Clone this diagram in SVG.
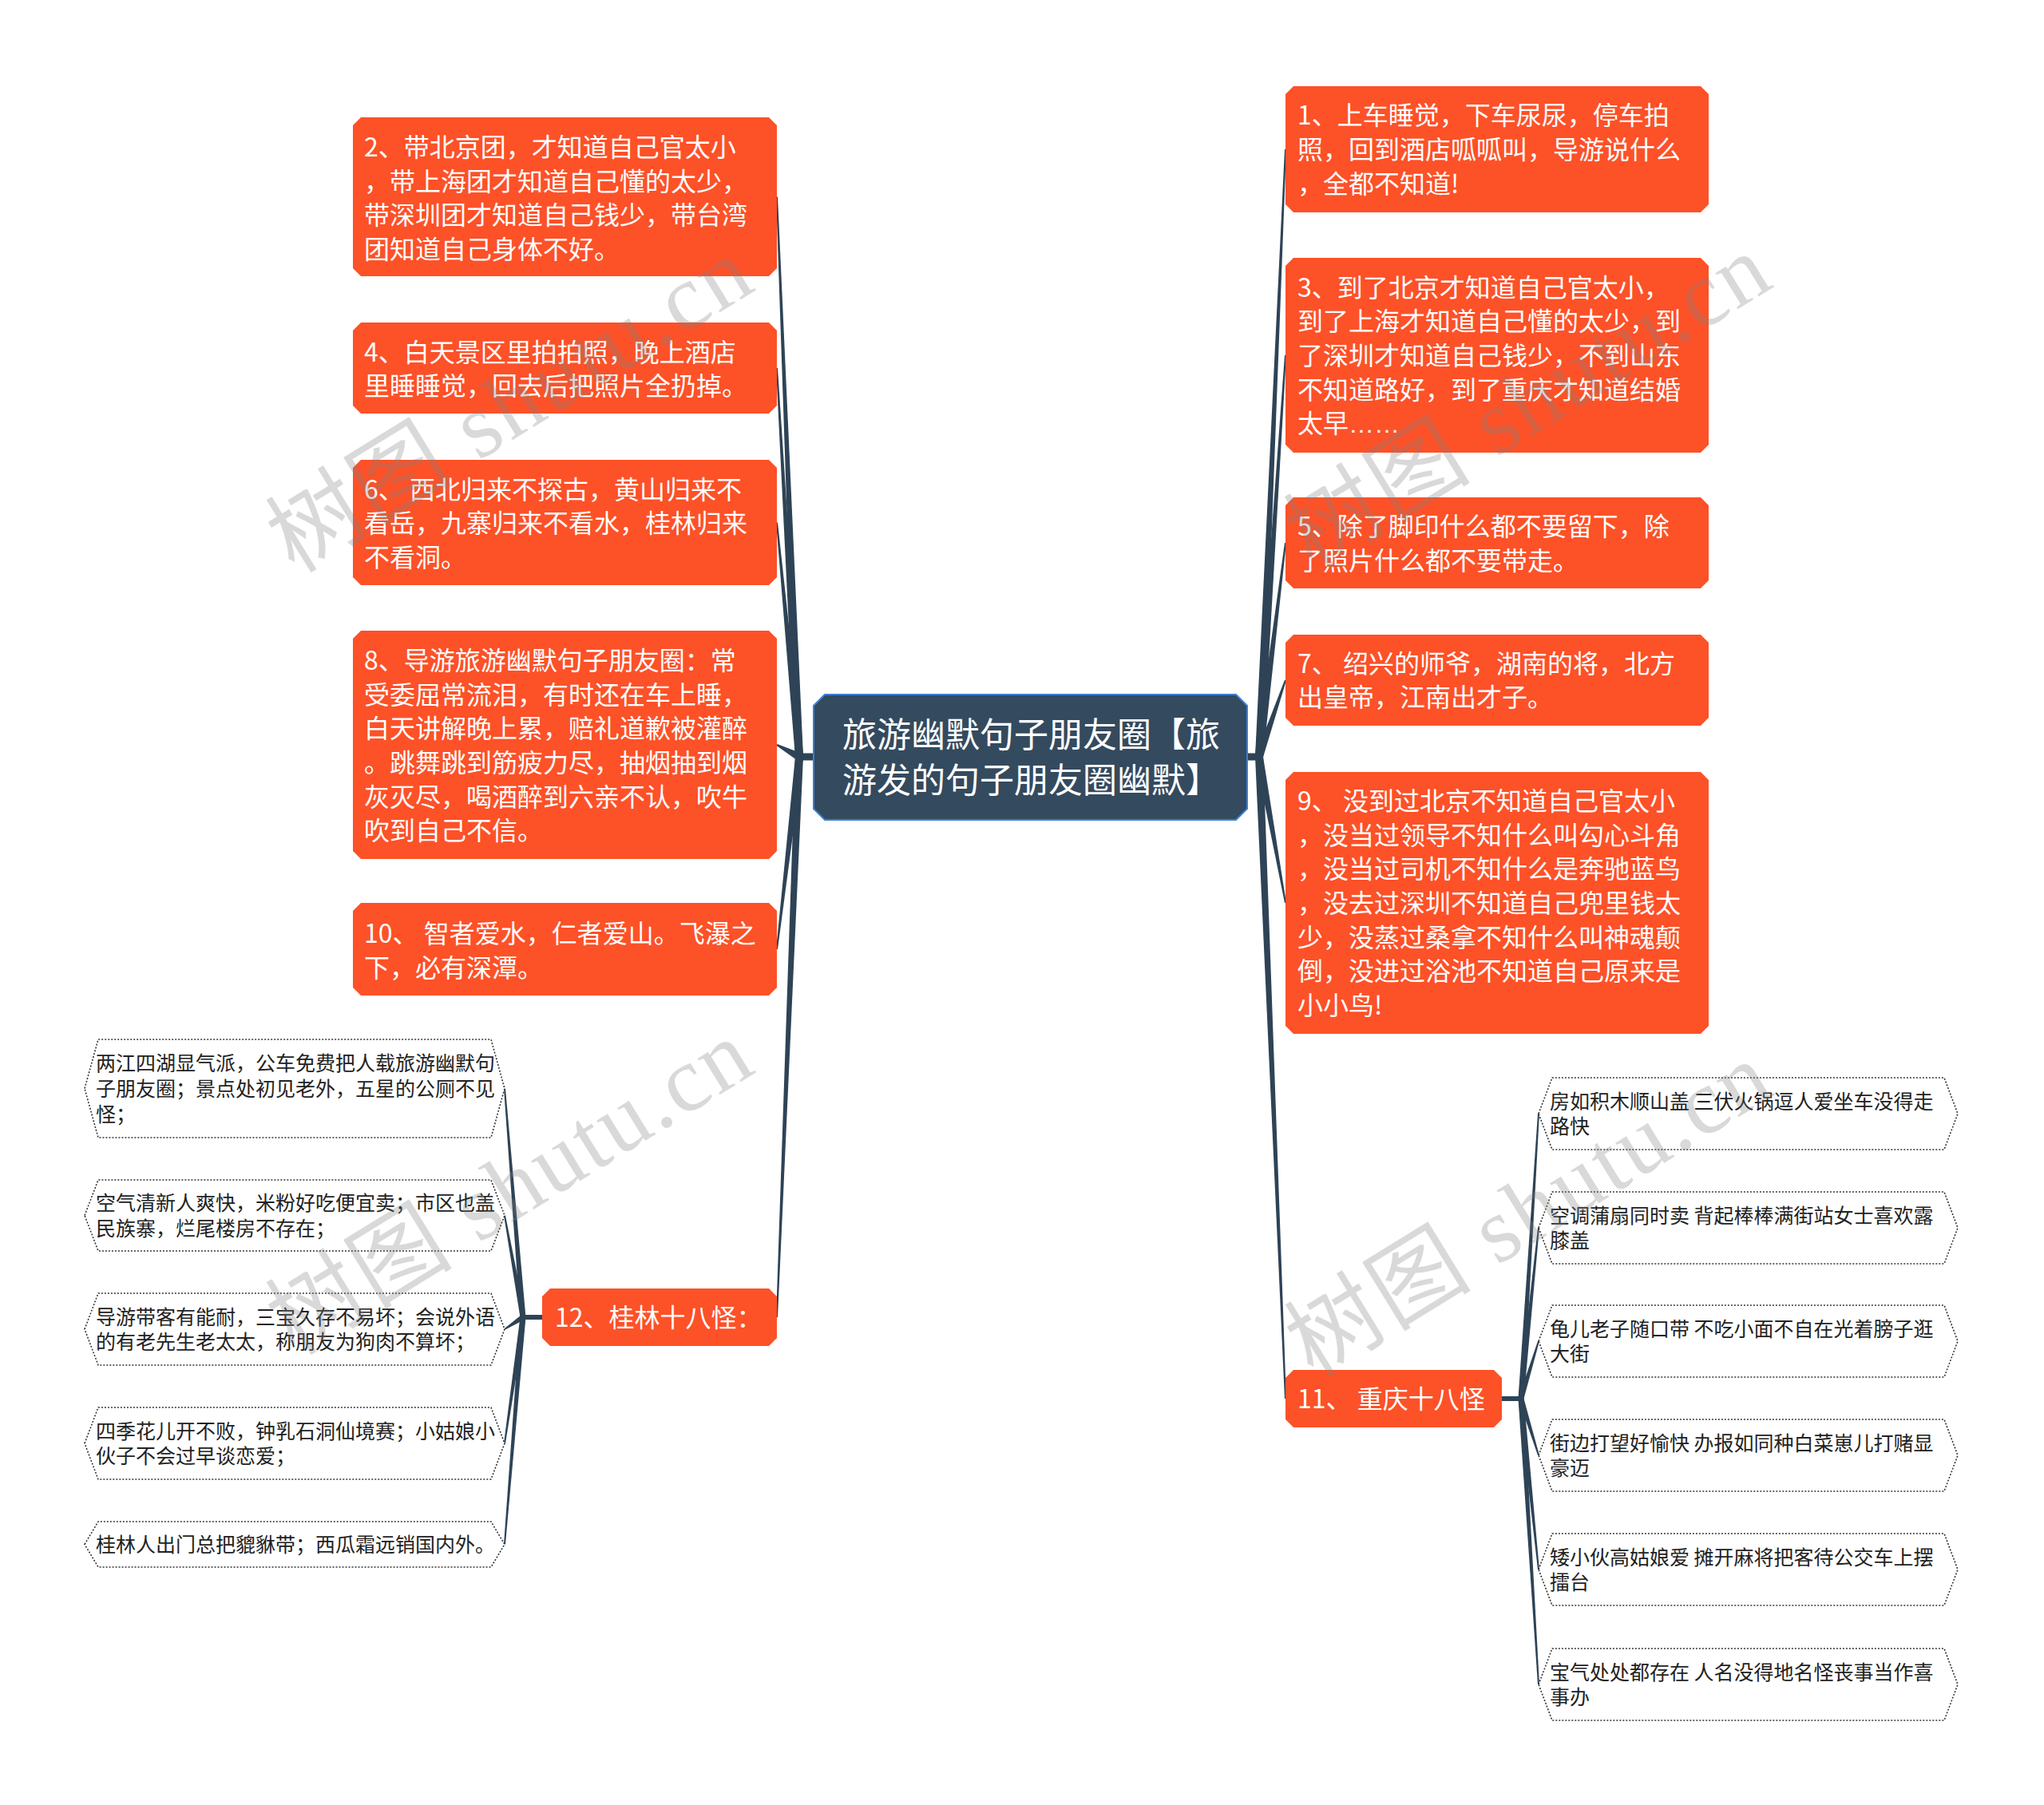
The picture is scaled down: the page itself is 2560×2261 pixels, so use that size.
<svg xmlns="http://www.w3.org/2000/svg" width="2560" height="2261" viewBox="0 0 2560 2261">
<style>
.bg{fill:#ffffff}
.topic{fill:#FD5128}
.root{fill:#344A5E;stroke:#3B7FD4;stroke-width:2}
.leaf{fill:#ffffff;stroke:#333333;stroke-width:1.6;stroke-dasharray:2 2}
.wedge{fill:#2E4356}
.t32{font-family:"Noto Sans CJK SC","Liberation Sans",sans-serif;font-size:32px;fill:#ffffff}
.t43{font-family:"Noto Sans CJK SC","Liberation Sans",sans-serif;font-size:43px;fill:#ffffff}
.t25{font-family:"Noto Sans CJK SC","Liberation Sans",sans-serif;font-size:25px;fill:#222222}
.ell{font-family:"Liberation Sans",sans-serif}
.wm{font-family:"Liberation Serif","Noto Sans CJK SC",serif;font-size:116px;fill:#808080;fill-opacity:0.3;letter-spacing:3px}
</style>
<rect class="bg" x="0" y="0" width="2560" height="2261"/>

<g id="connectors">
  <rect class="wedge" x="1000" y="943.5" width="20" height="9"/>
  <path class="wedge" d="M1006,948 L974,246.5 L972,246.5 L996,948 Z"/>
  <path class="wedge" d="M1006,948 L974,461 L972,461 L996,948 Z"/>
  <path class="wedge" d="M1006,948 L974,654.5 L972,654.5 L996,948 Z"/>
  <path class="wedge" d="M1003.4,943.6 L973.5,932.1 L972.5,933.9 L998.6,952.4 Z"/>
  <path class="wedge" d="M1006,948 L974,1189 L972,1189 L996,948 Z"/>
  <path class="wedge" d="M1006,948 L974,1650 L972,1650 L996,948 Z"/>

  <rect class="wedge" x="1561" y="943.5" width="17" height="9"/>
  <path class="wedge" d="M1572,948 L1609,187 L1611,187 L1582,948 Z"/>
  <path class="wedge" d="M1572,948 L1609,445 L1611,445 L1582,948 Z"/>
  <path class="wedge" d="M1572,948 L1609,680 L1611,680 L1582,948 Z"/>
  <path class="wedge" d="M1581.7,949.6 L1611,852.3 L1609,851.7 L1572.3,946.4 Z"/>
  <path class="wedge" d="M1572,948 L1609,1131 L1611,1131 L1582,948 Z"/>
  <path class="wedge" d="M1572,948 L1609,1752 L1611,1752 L1582,948 Z"/>

  <rect class="wedge" x="654" y="1647" width="26" height="6"/>
  <path class="wedge" d="M658.5,1650 L633,1363.5 L631,1363.5 L651.5,1650 Z"/>
  <path class="wedge" d="M658.5,1650 L633,1522.5 L631,1522.5 L651.5,1650 Z"/>
  <path class="wedge" d="M653.1,1647.1 L631.6,1664.3 L632.4,1665.7 L656.9,1652.9 Z"/>
  <path class="wedge" d="M658.5,1650 L633,1808 L631,1808 L651.5,1650 Z"/>
  <path class="wedge" d="M658.5,1650 L633,1934.5 L631,1934.5 L651.5,1650 Z"/>

  <rect class="wedge" x="1880" y="1749" width="26" height="6"/>
  <path class="wedge" d="M1901.5,1752 L1926,1395 L1928,1395 L1908.5,1752 Z"/>
  <path class="wedge" d="M1901.5,1752 L1926,1538 L1928,1538 L1908.5,1752 Z"/>
  <path class="wedge" d="M1901.5,1752 L1926,1680 L1928,1680 L1908.5,1752 Z"/>
  <path class="wedge" d="M1901.5,1752 L1926,1823 L1928,1823 L1908.5,1752 Z"/>
  <path class="wedge" d="M1901.5,1752 L1926,1966 L1928,1966 L1908.5,1752 Z"/>
  <path class="wedge" d="M1901.5,1752 L1926,2110 L1928,2110 L1908.5,1752 Z"/>
</g>

<g id="root">
  <polygon class="root" points="1033,870 1548,870 1562,884 1562,1013 1548,1027 1033,1027 1019,1013 1019,884"/>
  <text class="t43" x="1055" y="936">旅游幽默句子朋友圈【旅</text>
  <text class="t43" x="1055" y="993">游发的句子朋友圈幽默】</text>
</g>

<g id="n2">
  <polygon class="topic" points="452,147 963,147 973,157 973,336 963,346 452,346 442,336 442,157"/>
  <text class="t32" x="456" y="196">2、带北京团，才知道自己官太小</text>
  <text class="t32" x="456" y="238.7">，带上海团才知道自己懂的太少，</text>
  <text class="t32" x="456" y="281.4">带深圳团才知道自己钱少，带台湾</text>
  <text class="t32" x="456" y="324.1">团知道自己身体不好。</text>
</g>
<g id="n4">
  <polygon class="topic" points="452,404 963,404 973,414 973,508 963,518 452,518 442,508 442,414"/>
  <text class="t32" x="456" y="452.5">4、白天景区里拍拍照，晚上酒店</text>
  <text class="t32" x="456" y="495.2">里睡睡觉，回去后把照片全扔掉。</text>
</g>
<g id="n6">
  <polygon class="topic" points="452,576 963,576 973,586 973,723 963,733 452,733 442,723 442,586"/>
  <text class="t32" x="456" y="624.5">6、 西北归来不探古，黄山归来不</text>
  <text class="t32" x="456" y="667.2">看岳，九寨归来不看水，桂林归来</text>
  <text class="t32" x="456" y="709.9">不看洞。</text>
</g>
<g id="n8">
  <polygon class="topic" points="452,790 963,790 973,800 973,1066 963,1076 452,1076 442,1066 442,800"/>
  <text class="t32" x="456" y="838.8">8、导游旅游幽默句子朋友圈：常</text>
  <text class="t32" x="456" y="881.5">受委屈常流泪，有时还在车上睡，</text>
  <text class="t32" x="456" y="924.2">白天讲解晚上累，赔礼道歉被灌醉</text>
  <text class="t32" x="456" y="966.9">。跳舞跳到筋疲力尽，抽烟抽到烟</text>
  <text class="t32" x="456" y="1009.6">灰灭尽，喝酒醉到六亲不认，吹牛</text>
  <text class="t32" x="456" y="1052.3">吹到自己不信。</text>
</g>
<g id="n10">
  <polygon class="topic" points="452,1131 963,1131 973,1141 973,1237 963,1247 452,1247 442,1237 442,1141"/>
  <text class="t32" x="456" y="1181">10、 智者爱水，仁者爱山。飞瀑之</text>
  <text class="t32" x="456" y="1223.7">下，必有深潭。</text>
</g>
<g id="n12">
  <polygon class="topic" points="689,1614 963,1614 973,1624 973,1676 963,1686 689,1686 679,1676 679,1624"/>
  <text class="t32" x="695" y="1662">12、桂林十八怪：</text>
</g>

<g id="n1">
  <polygon class="topic" points="1620,108 2130,108 2140,118 2140,256 2130,266 1620,266 1610,256 1610,118"/>
  <text class="t32" x="1625" y="156.3">1、上车睡觉，下车尿尿，停车拍</text>
  <text class="t32" x="1625" y="199">照，回到酒店呱呱叫，导游说什么</text>
  <text class="t32" x="1625" y="241.7">，全都不知道!</text>
</g>
<g id="n3">
  <polygon class="topic" points="1620,323 2130,323 2140,333 2140,557 2130,567 1620,567 1610,557 1610,333"/>
  <text class="t32" x="1625" y="371.6">3、到了北京才知道自己官太小，</text>
  <text class="t32" x="1625" y="414.3">到了上海才知道自己懂的太少，到</text>
  <text class="t32" x="1625" y="457">了深圳才知道自己钱少，不到山东</text>
  <text class="t32" x="1625" y="499.7">不知道路好，到了重庆才知道结婚</text>
  <text class="t32" x="1625" y="542.4">太早<tspan class="ell">……</tspan></text>
</g>
<g id="n5">
  <polygon class="topic" points="1620,623 2130,623 2140,633 2140,727 2130,737 1620,737 1610,727 1610,633"/>
  <text class="t32" x="1625" y="671">5、除了脚印什么都不要留下，除</text>
  <text class="t32" x="1625" y="713.7">了照片什么都不要带走。</text>
</g>
<g id="n7">
  <polygon class="topic" points="1620,795 2130,795 2140,805 2140,899 2130,909 1620,909 1610,899 1610,805"/>
  <text class="t32" x="1625" y="842.7">7、 绍兴的师爷，湖南的将，北方</text>
  <text class="t32" x="1625" y="885.4">出皇帝，江南出才子。</text>
</g>
<g id="n9">
  <polygon class="topic" points="1620,967 2130,967 2140,977 2140,1285 2130,1295 1620,1295 1610,1285 1610,977"/>
  <text class="t32" x="1625" y="1014.9">9、 没到过北京不知道自己官太小</text>
  <text class="t32" x="1625" y="1057.6">，没当过领导不知什么叫勾心斗角</text>
  <text class="t32" x="1625" y="1100.3">，没当过司机不知什么是奔驰蓝鸟</text>
  <text class="t32" x="1625" y="1143">，没去过深圳不知道自己兜里钱太</text>
  <text class="t32" x="1625" y="1185.7">少，没蒸过桑拿不知什么叫神魂颠</text>
  <text class="t32" x="1625" y="1228.4">倒，没进过浴池不知道自己原来是</text>
  <text class="t32" x="1625" y="1271.1">小小鸟!</text>
</g>
<g id="n11">
  <polygon class="topic" points="1620,1716 1871,1716 1881,1726 1881,1778 1871,1788 1620,1788 1610,1778 1610,1726"/>
  <text class="t32" x="1625" y="1764">11、 重庆十八怪</text>
</g>

<g id="l1">
  <polygon class="leaf" points="106,1363.5 123,1302 615,1302 632,1363.5 615,1425 123,1425"/>
  <text class="t25" x="120" y="1341.3">两江四湖显气派，公车免费把人载旅游幽默句</text>
  <text class="t25" x="120" y="1373">子朋友圈；景点处初见老外，五星的公厕不见</text>
  <text class="t25" x="120" y="1404.7">怪；</text>
</g>
<g id="l2">
  <polygon class="leaf" points="106,1522.5 123,1478 615,1478 632,1522.5 615,1567 123,1567"/>
  <text class="t25" x="120" y="1516.2">空气清新人爽快，米粉好吃便宜卖；市区也盖</text>
  <text class="t25" x="120" y="1547.9">民族寨，烂尾楼房不存在；</text>
</g>
<g id="l3">
  <polygon class="leaf" points="106,1665 123,1620 615,1620 632,1665 615,1710 123,1710"/>
  <text class="t25" x="120" y="1658.7">导游带客有能耐，三宝久存不易坏；会说外语</text>
  <text class="t25" x="120" y="1690.4">的有老先生老太太，称朋友为狗肉不算坏；</text>
</g>
<g id="l4">
  <polygon class="leaf" points="106,1808 123,1763 615,1763 632,1808 615,1853 123,1853"/>
  <text class="t25" x="120" y="1801.7">四季花儿开不败，钟乳石洞仙境赛；小姑娘小</text>
  <text class="t25" x="120" y="1833.4">伙子不会过早谈恋爱；</text>
</g>
<g id="l5">
  <polygon class="leaf" points="106,1934.5 123,1906 615,1906 632,1934.5 615,1963 123,1963"/>
  <text class="t25" x="120" y="1944">桂林人出门总把貔貅带；西瓜霜远销国内外。</text>
</g>

<g id="r1">
  <polygon class="leaf" points="1927,1395 1944,1350 2435,1350 2452,1395 2435,1440 1944,1440"/>
  <text class="t25" x="1941" y="1388.7">房如积木顺山盖 三伏火锅逗人爱坐车没得走</text>
  <text class="t25" x="1941" y="1420.4">路快</text>
</g>
<g id="r2">
  <polygon class="leaf" points="1927,1538 1944,1493 2435,1493 2452,1538 2435,1583 1944,1583"/>
  <text class="t25" x="1941" y="1531.7">空调蒲扇同时卖 背起棒棒满街站女士喜欢露</text>
  <text class="t25" x="1941" y="1563.4">膝盖</text>
</g>
<g id="r3">
  <polygon class="leaf" points="1927,1680 1944,1635 2435,1635 2452,1680 2435,1725 1944,1725"/>
  <text class="t25" x="1941" y="1673.7">龟儿老子随口带 不吃小面不自在光着膀子逛</text>
  <text class="t25" x="1941" y="1705.4">大街</text>
</g>
<g id="r4">
  <polygon class="leaf" points="1927,1823 1944,1778 2435,1778 2452,1823 2435,1868 1944,1868"/>
  <text class="t25" x="1941" y="1816.7">街边打望好愉快 办报如同种白菜崽儿打赌显</text>
  <text class="t25" x="1941" y="1848.4">豪迈</text>
</g>
<g id="r5">
  <polygon class="leaf" points="1927,1966 1944,1921 2435,1921 2452,1966 2435,2011 1944,2011"/>
  <text class="t25" x="1941" y="1959.7">矮小伙高姑娘爱 摊开麻将把客待公交车上摆</text>
  <text class="t25" x="1941" y="1991.4">擂台</text>
</g>
<g id="r6">
  <polygon class="leaf" points="1927,2110 1944,2065 2435,2065 2452,2110 2435,2155 1944,2155"/>
  <text class="t25" x="1941" y="2103.7">宝气处处都存在 人名没得地名怪丧事当作喜</text>
  <text class="t25" x="1941" y="2135.4">事办</text>
</g>

<g id="watermarks">
  <text class="wm" text-anchor="middle" transform="translate(660,540) rotate(-31.6)">树图 shutu.cn</text>
  <text class="wm" text-anchor="middle" transform="translate(1935,536) rotate(-31.6)">树图 shutu.cn</text>
  <text class="wm" text-anchor="middle" transform="translate(660,1520) rotate(-31.6)">树图 shutu.cn</text>
  <text class="wm" text-anchor="middle" transform="translate(1936,1548) rotate(-31.6)">树图 shutu.cn</text>
</g>
</svg>
